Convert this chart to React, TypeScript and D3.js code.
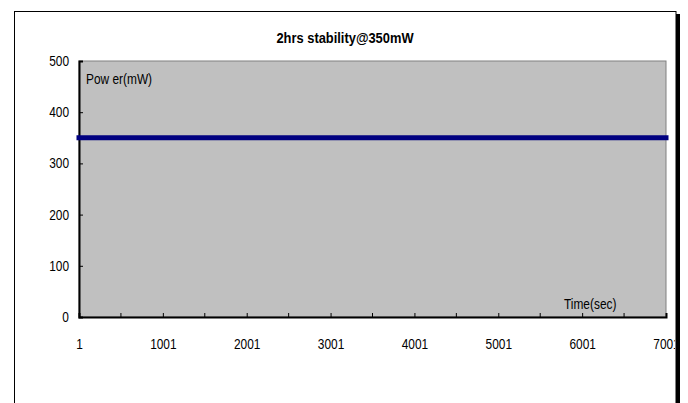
import React, { useRef, useEffect } from "react";
import * as d3 from "d3";

// sampled readings (time in sec, power in mW)
const sampleTimes = [1, 501, 1001, 1501, 2001, 2501, 3001, 3501, 4001, 4501, 5001, 5501, 6001, 6501, 7001];
const powerValues = [350, 350, 350, 350, 350, 350, 350, 350, 350, 350, 350, 350, 350, 350, 350];
const xTickLabels = [1, 1001, 2001, 3001, 4001, 5001, 6001, 7001];
const xMinorTicks = [501, 1501, 2501, 3501, 4501, 5501, 6501];
const yTicks = [0, 100, 200, 300, 400, 500];

const title = "2hrs stability@350mW";
const yLabel = "Pow er(mW)";
const xLabel = "Time(sec)";

const FONT = "'Liberation Sans', Arial, sans-serif";
const SQUEEZE = 0.85; // the original uses a narrow face

// squeeze text horizontally around its anchor point
function narrow(sel: d3.Selection<any, any, any, any>, k = SQUEEZE) {
  sel.each(function () {
    const el = this as SVGTextElement;
    const tx = +(el.getAttribute("x") || 0);
    const ty = +(el.getAttribute("y") || 0);
    el.removeAttribute("x");
    el.removeAttribute("y");
    el.setAttribute("transform", `translate(${tx},${ty}) scale(${k},1)`);
  });
}

export default function App() {
  const svgRef = useRef<SVGSVGElement>(null);
  const width = 688;
  const height = 403;

  useEffect(() => {
    if (!svgRef.current) return;
    const svg = d3.select(svgRef.current);
    svg.selectAll("*").remove();

    const margin = { top: 61, right: 22, bottom: 86, left: 79 };
    const innerWidth = width - margin.left - margin.right;
    const innerHeight = height - margin.top - margin.bottom;

    svg.append("defs")
      .append("clipPath")
      .attr("id", "frame-clip")
      .append("rect")
      .attr("x", 15).attr("y", 12)
      .attr("width", 660).attr("height", 400);

    // chart frame with shadow
    svg.append("rect")
      .attr("x", 17).attr("y", 14)
      .attr("width", 663).attr("height", 400)
      .attr("fill", "#000");
    svg.append("rect")
      .attr("x", 14.5).attr("y", 11.5)
      .attr("width", 661.5).attr("height", 400)
      .attr("fill", "#fff")
      .attr("stroke", "#000")
      .attr("stroke-width", 1);

    const root = svg.append("g").attr("clip-path", "url(#frame-clip)");

    root.append("text")
      .attr("x", 345)
      .attr("y", 43)
      .attr("text-anchor", "middle")
      .style("font-family", FONT)
      .style("font-size", "15px")
      .style("font-weight", "bold")
      .text(title)
      .call(narrow, 0.86);

    const g = root.append("g").attr("transform", `translate(${margin.left},${margin.top})`);

    const x = d3.scaleLinear().domain([1, 7001]).range([0, innerWidth]);
    const y = d3.scaleLinear().domain([0, 500]).range([innerHeight, 0]);

    // plot area
    g.append("rect")
      .attr("width", innerWidth)
      .attr("height", innerHeight)
      .attr("fill", "#c0c0c0")
      .attr("stroke", "#808080")
      .attr("stroke-width", 1);

    // y axis
    const yAxis = g.append("g").call(d3.axisLeft(y).tickValues(yTicks).tickSize(-4).tickPadding(10));
    yAxis.select(".domain").attr("stroke", "#000").attr("stroke-width", 2);
    yAxis.selectAll("line").attr("stroke", "#000");
    yAxis.selectAll("text")
      .style("font-family", FONT)
      .style("font-size", "14px")
      .attr("fill", "#000")
      .call(narrow);

    // x axis
    const xAxis = g.append("g")
      .attr("transform", `translate(0,${innerHeight})`)
      .call(d3.axisBottom(x).tickValues(xTickLabels).tickSize(-4).tickPadding(22).tickFormat(d3.format("d")));
    xAxis.select(".domain").attr("stroke", "#000").attr("stroke-width", 2);
    xAxis.selectAll("line").attr("stroke", "#000");
    xAxis.selectAll("text")
      .style("font-family", FONT)
      .style("font-size", "14px")
      .attr("fill", "#000")
      .call(narrow);
    g.append("g")
      .selectAll("line")
      .data(xMinorTicks)
      .join("line")
      .attr("x1", (d) => x(d)).attr("x2", (d) => x(d))
      .attr("y1", innerHeight).attr("y2", innerHeight - 4)
      .attr("stroke", "#000");

    // series
    const line = d3.line<number>()
      .x((_, i) => x(sampleTimes[i]))
      .y((d) => y(d));
    g.append("path")
      .datum(powerValues)
      .attr("d", line)
      .attr("fill", "none")
      .attr("stroke", "#000080")
      .attr("stroke-width", 5)
      .attr("stroke-linecap", "square");

    g.append("text")
      .attr("x", 7).attr("y", 23)
      .style("font-family", FONT)
      .style("font-size", "14px")
      .text(yLabel)
      .call(narrow);
    g.append("text")
      .attr("x", 485).attr("y", 248)
      .style("font-family", FONT)
      .style("font-size", "14px")
      .text(xLabel)
      .call(narrow);
  }, []);

  return (
    <svg
      ref={svgRef}
      width={width}
      height={height}
      style={{ position: "absolute", left: 0, top: 0, background: "#fff" }}
    />
  );
}
